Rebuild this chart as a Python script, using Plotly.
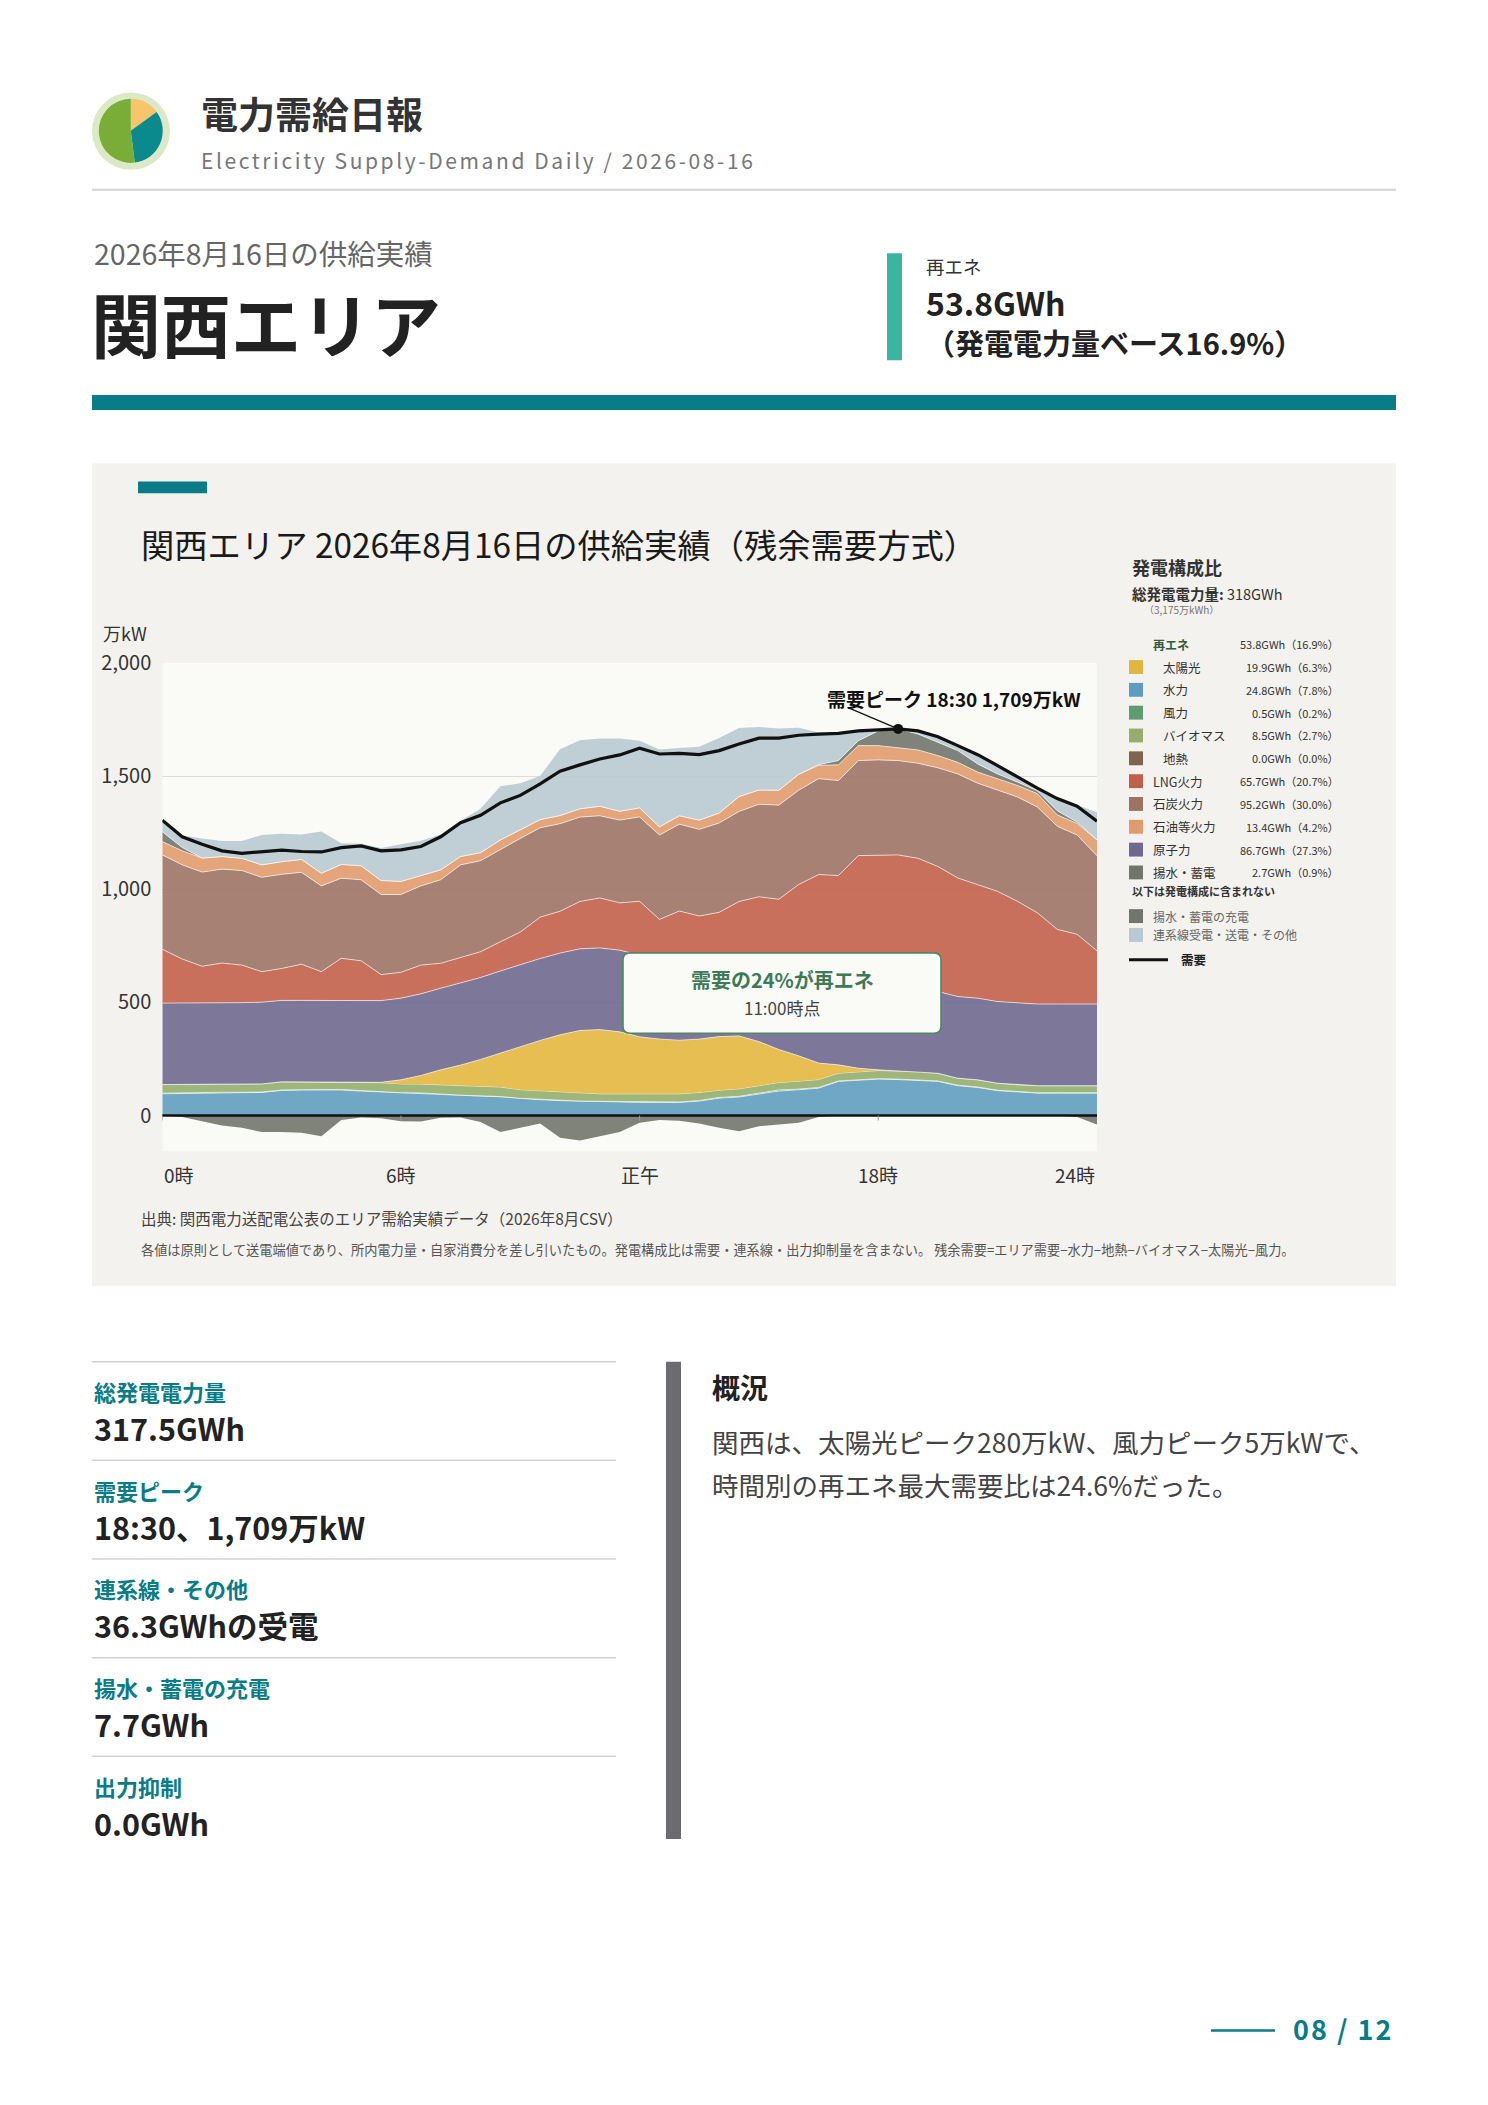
import plotly.graph_objects as go

W, H = 1488, 2105
FONT = "Noto Sans CJK JP"
TEAL = "#097c87"


def px(x):
    return x / W


def py(y):
    return 1 - y / H


def rgba(hex_color, a):
    h = hex_color.lstrip("#")
    return "rgba(%d,%d,%d,%.2f)" % (int(h[0:2], 16), int(h[2:4], 16), int(h[4:6], 16), a)


# ---- half-hourly supply/demand (万kW) ----
time_labels = ["0:00", "0:30", "1:00", "1:30", "2:00", "2:30", "3:00", "3:30", "4:00", "4:30",
               "5:00", "5:30", "6:00", "6:30", "7:00", "7:30", "8:00", "8:30", "9:00", "9:30",
               "10:00", "10:30", "11:00", "11:30", "12:00", "12:30", "13:00", "13:30", "14:00", "14:30",
               "15:00", "15:30", "16:00", "16:30", "17:00", "17:30", "18:00", "18:30", "19:00", "19:30",
               "20:00", "20:30", "21:00", "21:30", "22:00", "22:30", "23:00", "23:30"]

hydro = [96, 98, 99, 101, 101, 102, 111, 113, 113, 113, 108, 104, 99, 98, 92, 89, 86, 83, 75, 70,
         66, 63, 61, 60, 58, 58, 58, 64, 77, 82, 96, 108, 114, 121, 151, 155, 161, 159, 155, 151,
         132, 124, 110, 104, 99, 99, 99, 99]
wind = [3, 3, 3, 2, 2, 2, 2, 2, 2, 2, 2, 2, 2, 2, 2, 1, 1, 1, 1, 1, 1, 1, 2, 2, 2, 2, 2, 2,
        3, 3, 3, 5, 3, 3, 2, 2, 2, 2, 2, 2, 2, 2, 2, 2, 2, 2, 2, 2]
biomass = [38, 36, 35, 34, 35, 36, 36, 34, 34, 34, 36, 39, 39, 39, 42, 42, 44, 42, 38, 38,
           36, 34, 33, 34, 36, 36, 36, 36, 32, 33, 34, 33, 35, 35, 34, 37, 36, 36, 37, 34,
           31, 32, 31, 30, 31, 31, 31, 31]
geothermal = [0, 0, 0, 0, 0, 0, 0, 0, 0, 0, 0, 0, 0, 0, 0, 0, 0, 0, 0, 0, 0, 0, 0, 0,
              0, 0, 0, 0, 0, 0, 0, 0, 0, 0, 0, 0, 0, 0, 0, 0, 0, 0, 0, 0, 0, 0, 0, 0]
solar = [0, 0, 0, 0, 0, 0, 0, 0, 0, 0, 0, 2, 18, 38, 66, 91, 117, 151, 192, 223,
         254, 278, 284, 274, 252, 242, 237, 236, 237, 234, 194, 146, 112, 73, 37, 15, 3, 0, 0, 0,
         0, 0, 0, 0, 0, 0, 0, 0]
nuclear = [360, 360, 361, 361, 361, 361, 360, 360, 360, 360, 361, 361, 361, 361, 361, 362, 362, 362, 362, 362,
           361, 361, 361, 361, 361, 361, 361, 361, 362, 362, 362, 362, 361, 361, 361, 361, 361, 361, 361, 361,
           361, 361, 361, 361, 361, 361, 361, 361]
lng = [238, 195, 162, 176, 166, 135, 141, 160, 127, 186, 177, 115, 114, 127, 110, 114, 114, 129, 143, 183,
       185, 209, 221, 209, 238, 168, 210, 183, 187, 232, 278, 302, 396, 472, 476, 579, 589, 594, 582, 553,
       524, 501, 487, 450, 403, 330, 308, 235]
coal = [417, 416, 416, 415, 418, 417, 416, 406, 379, 354, 358, 354, 344, 350, 369, 409, 402, 409, 414, 395,
        387, 373, 363, 366, 373, 373, 384, 383, 395, 398, 409, 416, 417, 424, 420, 420, 420, 417, 420, 436,
        460, 449, 446, 461, 468, 456, 439, 420]
oil = [59, 62, 62, 56, 54, 55, 56, 57, 56, 61, 62, 62, 58, 45, 44, 37, 36, 41, 37, 36,
       36, 37, 42, 39, 40, 36, 37, 41, 44, 66, 63, 66, 70, 59, 69, 66, 63, 58, 59, 54,
       51, 49, 51, 51, 59, 50, 51, 70]
pumped_gen = [43, 15, 0, 0, 0, 0, 0, 0, 0, 0, 0, 0, 0, 0, 0, 0, 0, 0, 0, 0,
              0, 0, 0, 0, 0, 0, 0, 0, 0, 0, 0, 0, 0, 3, 19, 22, 65, 82, 70, 58,
              52, 36, 22, 15, 12, 18, 6, 0]
interconnect = [51, 53, 87, 69, 76, 132, 123, 110, 184, 93, 97, 143, 164, 155, 156, 158, 194, 237, 207, 193,
                293, 303, 300, 322, 296, 342, 299, 324, 332, 303, 278, 273, 206, 142, 120, 43, 5, 0, 14, 25,
                22, 41, 37, 22, 12, 54, 76, 122]
charging = [0, -6, -25, -44, -54, -73, -73, -76, -91, -20, -9, -12, -25, -26, -10, -9, -29, -73, -54, -35,
            -98, -110, -91, -73, -32, -20, -23, -35, -54, -69, -47, -39, -32, -6, 0, 0, 0, 0, 0, 0,
            0, 0, 0, 0, 0, 0, -6, -39]
demand = [1305, 1232, 1199, 1170, 1159, 1167, 1173, 1167, 1165, 1184, 1192, 1170, 1174, 1189, 1232, 1294,
          1327, 1382, 1415, 1466, 1522, 1550, 1576, 1594, 1624, 1598, 1601, 1595, 1613, 1642, 1668, 1668,
          1681, 1686, 1689, 1700, 1705, 1709, 1700, 1674, 1635, 1595, 1547, 1496, 1447, 1401, 1367, 1301]

x_tick_vals = [0, 6, 12, 18, 23.5]
x_tick_text = ["0時", "6時", "正午", "18時", "24時"]
y_tick_vals = [0, 500, 1000, 1500, 2000]

# ---- generation mix panel ----
mix_labels = ["太陽光", "水力", "風力", "バイオマス", "地熱", "LNG火力", "石炭火力", "石油等火力", "原子力", "揚水・蓄電"]
mix_gwh = [19.9, 24.8, 0.5, 8.5, 0.0, 65.7, 95.2, 13.4, 86.7, 2.7]
mix_pct = [6.3, 7.8, 0.2, 2.7, 0.0, 20.7, 30.0, 4.2, 27.3, 0.9]
renew_gwh, renew_pct = 53.8, 16.9

# ---- summary figures ----
stat_labels = ["総発電電力量", "需要ピーク", "連系線・その他", "揚水・蓄電の充電", "出力抑制"]
stat_values = ["317.5GWh", "18:30、1,709万kW", "36.3GWhの受電", "7.7GWh", "0.0GWh"]

logo_shares = [15, 33, 52]

C = {
    "太陽光": "#e3b73f", "水力": "#5f9dc0", "風力": "#5d9b70", "バイオマス": "#95ae6e",
    "地熱": "#806650", "LNG火力": "#c2614a", "石炭火力": "#9c7366", "石油等火力": "#e19b6d",
    "原子力": "#6f6990", "揚水・蓄電": "#72756c", "充電": "#72756c", "連系線": "#b9c9d1",
}

hours = [int(t.split(":")[0]) + int(t.split(":")[1]) / 60 for t in time_labels]

fig = go.Figure()

stack = [
    ("水力", hydro, C["水力"]),
    ("風力", wind, C["風力"]),
    ("バイオマス", biomass, C["バイオマス"]),
    ("地熱", geothermal, C["地熱"]),
    ("太陽光", solar, C["太陽光"]),
    ("原子力", nuclear, C["原子力"]),
    ("LNG火力", lng, C["LNG火力"]),
    ("石炭火力", coal, C["石炭火力"]),
    ("石油等火力", oil, C["石油等火力"]),
    ("揚水・蓄電", pumped_gen, C["揚水・蓄電"]),
    ("連系線受電・送電・その他", interconnect, C["連系線"]),
]
for name, vals, col in stack:
    fig.add_trace(go.Scatter(
        x=hours, y=vals, name=name, stackgroup="supply", mode="lines",
        line=dict(width=0 if name in ("地熱", "連系線受電・送電・その他") else 0.9,
                  color="rgba(255,255,255,0.7)"),
        fillcolor=rgba(col, 0.9), hoverinfo="skip", showlegend=False,
    ))

fig.add_trace(go.Scatter(
    x=hours, y=charging, name="揚水・蓄電の充電", stackgroup="charge", mode="lines",
    line=dict(width=0), fillcolor=rgba(C["充電"], 0.9), hoverinfo="skip", showlegend=False,
))

fig.add_trace(go.Scatter(
    x=hours, y=demand, name="需要", mode="lines",
    line=dict(color="#111111", width=3.2), hoverinfo="skip", showlegend=False,
))

peak_i = demand.index(max(demand))
peak_x, peak_v = hours[peak_i], demand[peak_i]
fig.add_trace(go.Scatter(
    x=[peak_x], y=[peak_v], mode="markers", marker=dict(size=10, color="#111111"),
    hoverinfo="skip", showlegend=False,
))

# logo pie
fig.add_trace(go.Pie(
    values=logo_shares, marker=dict(colors=["#f8c46c", "#0b8a8e", "#79ad37"], line=dict(width=0)),
    domain=dict(x=[px(98.5), px(163)], y=[py(148), py(83.5)]),
    direction="clockwise", sort=False, rotation=0, textinfo="none", hoverinfo="skip", showlegend=False,
))

shapes = []
annotations = []


def rect(x0, y0, x1, y1, fill, layer="above"):
    shapes.append(dict(type="rect", xref="paper", yref="paper", x0=px(x0), x1=px(x1), y0=py(y1), y1=py(y0),
                       fillcolor=fill, line=dict(width=0), layer=layer))


def hline(x0, x1, y, color, width):
    shapes.append(dict(type="line", xref="paper", yref="paper", x0=px(x0), x1=px(x1), y0=py(y), y1=py(y),
                       line=dict(color=color, width=width)))


def text(x, y, s, size, color="#333333", xanchor="left", bold=False, yanchor="middle", spacing=None):
    s = ("<b>%s</b>" % s) if bold else s
    if spacing:
        s = '<span style="letter-spacing:%.1fpx">%s</span>' % (spacing, s)
    annotations.append(dict(xref="paper", yref="paper", x=px(x), y=py(y), text=s,
                            showarrow=False, xanchor=xanchor, yanchor=yanchor,
                            font=dict(family=FONT, size=size, color=color)))


# header
shapes.append(dict(type="circle", xref="paper", yref="paper", x0=px(92), x1=px(170), y0=py(155), y1=py(77),
                   fillcolor="#dbe9c6", line=dict(width=0), layer="below"))
text(199, 98, "電力需給日報", 37, "#333333", bold=True)
text(199, 145, "Electricity Supply-Demand Daily / 2026-08-16", 21, "#777777", spacing=2.6)
hline(92, 1396, 175, "#d3d3d3", 2)

text(92, 238, "2026年8月16日の供給実績", 28.5, "#666666")
text(89, 309, "関西エリア", 70, "#222222", bold=True)
rect(887, 239, 902, 347, "#3ab5a0")
text(924, 252, "再エネ", 18.5, "#333333")
text(924, 288, "%.1fGWh" % renew_gwh, 32, "#222222", bold=True)
text(924, 328, "（発電電力量ベース%.1f%%）" % renew_pct, 29, "#222222", bold=True)
rect(92, 382, 1396, 397, TEAL)

# chart panel
rect(92, 451, 1396, 1280, "#f3f2ee", layer="below")
shapes.append(dict(type="rect", xref="x domain", yref="y domain", x0=0, x1=1, y0=0, y1=1,
                   fillcolor="#fafaf6", line=dict(width=0), layer="below"))
rect(138, 469, 207, 481, TEAL)
text(139, 532, "関西エリア 2026年8月16日の供給実績（残余需要方式）", 33.3, "#1a1a1a")
text(149, 622, "万kW", 18, "#333333", xanchor="right")

# zero line and small ticks
shapes.append(dict(type="line", xref="x domain", yref="y", x0=0, x1=1, y0=0, y1=0,
                   line=dict(color="#111111", width=2.5)))
for tv in x_tick_vals[:-1]:
    shapes.append(dict(type="line", xref="x", yref="y", x0=tv, x1=tv, y0=0, y1=-22,
                       line=dict(color="#9a9a9a", width=1)))

for tv, tt in zip(x_tick_vals, x_tick_text):
    anchor = "left" if tv == x_tick_vals[0] else ("right" if tv == x_tick_vals[-1] else "center")
    annotations.append(dict(xref="x", yref="paper", x=tv, y=py(1167), text=tt, showarrow=False,
                            xanchor=anchor, yanchor="middle", font=dict(family=FONT, size=19, color="#333333")))

# peak callout
shapes.append(dict(type="line", xref="x", yref="y", x0=peak_x - 1.26, y0=peak_v + 94, x1=peak_x, y1=peak_v,
                   line=dict(color="#111111", width=1.2)))
text(1083, 688, "需要ピーク %s %s万kW" % (time_labels[peak_i], format(peak_v, ",")), 19, "#111111",
     xanchor="right", bold=True)

# renewable share box


def rounded(x0, y0, x1, y1, r):
    pts = [("M", x0 + r, y0), ("L", x1 - r, y0), ("Q", x1, y0, x1, y0 + r), ("L", x1, y1 - r),
           ("Q", x1, y1, x1 - r, y1), ("L", x0 + r, y1), ("Q", x0, y1, x0, y1 - r), ("L", x0, y0 + r),
           ("Q", x0, y0, x0 + r, y0)]
    out = []
    for p in pts:
        cmd = p[0]
        coords = p[1:]
        seg = " ".join("%.5f,%.5f" % (px(coords[i]), py(coords[i + 1])) for i in range(0, len(coords), 2))
        out.append(cmd + seg)
    return " ".join(out) + " Z"


shapes.append(dict(type="path", xref="paper", yref="paper", path=rounded(623, 944, 941, 1025, 7),
                   fillcolor="#fafaf6", line=dict(color="#4d8a63", width=1.6)))
text(782, 971, "需要の24%が再エネ", 20, "#3f7a57", xanchor="center", bold=True)
text(782, 999, "11:00時点", 17, "#444444", xanchor="center")

# source notes
text(139, 1211, "出典: 関西電力送配電公表のエリア需給実績データ（2026年8月CSV）", 15.5, "#444444")
text(139, 1243, "各値は原則として送電端値であり、所内電力量・自家消費分を差し引いたもの。発電構成比は需要・連系線・出力抑制量を含まない。 "
                "残余需要=エリア需要−水力−地熱−バイオマス−太陽光−風力。", 13.2, "#555555")

# generation mix panel
text(1130, 555, "発電構成比", 18, "#333333", bold=True)
text(1130, 582, "<b>総発電電力量:</b> 318GWh", 14.5, "#333333")
text(1142, 598, "（3,175万kWh）", 10, "#777777")
row_y = 633
text(1151, row_y, "再エネ", 12, "#2f5a3f", bold=True)
text(1341, row_y, "%.1fGWh（%.1f%%）" % (renew_gwh, renew_pct), 11, "#333333", xanchor="right")
for i, lab in enumerate(mix_labels):
    y = row_y + 23 * (i + 1)
    rect(1129, y - 7, 1143, y + 7, C[lab])
    indent = 1161 if i < 5 else 1151
    text(indent, y, lab, 12.5, "#333333")
    text(1341, y, "%.1fGWh（%.1f%%）" % (mix_gwh[i], mix_pct[i]), 11, "#333333", xanchor="right")
text(1130, 882, "以下は発電構成に含まれない", 11, "#333333", bold=True)
rect(1129, 900, 1143, 914, C["充電"])
text(1151, 907, "揚水・蓄電の充電", 12, "#666666")
rect(1129, 919, 1143, 933, C["連系線"])
text(1151, 926, "連系線受電・送電・その他", 12, "#666666")
hline(1129, 1168, 951, "#111111", 3)
text(1179, 951, "需要", 12.5, "#222222", bold=True)

# summary stats
for i, (lab, val) in enumerate(zip(stat_labels, stat_values)):
    y0 = 1356 + 99.4 * i
    hline(92, 616, y0, "#d3d3d3", 1.5)
    text(92, y0 + 29.5, lab, 22, TEAL, bold=True)
    text(92, y0 + 67, val, 30.5, "#222222", bold=True)

rect(666, 1356, 681, 1837, "#6b6b70")
text(710, 1381, "概況", 28, "#222222", bold=True)
text(710, 1436, "関西は、太陽光ピーク280万kW、風力ピーク5万kWで、", 26.5, "#444444")
text(710, 1480, "時間別の再エネ最大需要比は24.6%だった。", 26.5, "#444444")

# footer
hline(1211, 1275, 2030, TEAL, 2.5)
text(1395, 2028, "08 / 12", 27, TEAL, xanchor="right", bold=True, spacing=2)

fig.update_layout(
    width=W, height=H, autosize=False,
    margin=dict(l=0, r=0, t=0, b=0),
    paper_bgcolor="white", plot_bgcolor="rgba(0,0,0,0)",
    font=dict(family=FONT, color="#333333"),
    showlegend=False,
    shapes=shapes, annotations=annotations,
    xaxis=dict(domain=[px(162.3), px(1097)], range=[0, 23.5], showgrid=False, zeroline=False,
               showticklabels=False, ticks="", fixedrange=True),
    yaxis=dict(domain=[py(1144), py(652)], range=[-158, 2000], tickvals=y_tick_vals,
               ticktext=[format(v, ",") for v in y_tick_vals], showgrid=True, gridcolor="#dcdcdc",
               gridwidth=1, zeroline=False, ticks="", ticklabelstandoff=10,
               tickfont=dict(family=FONT, size=20, color="#333333"), fixedrange=True),
)

fig.write_html(
    "out.html",
    config={"displayModeBar": False, "staticPlot": True},
    post_script="document.documentElement.style.margin='0';document.body.style.margin='0';"
                "document.body.style.padding='0';window.scrollTo(0,0);",
)
